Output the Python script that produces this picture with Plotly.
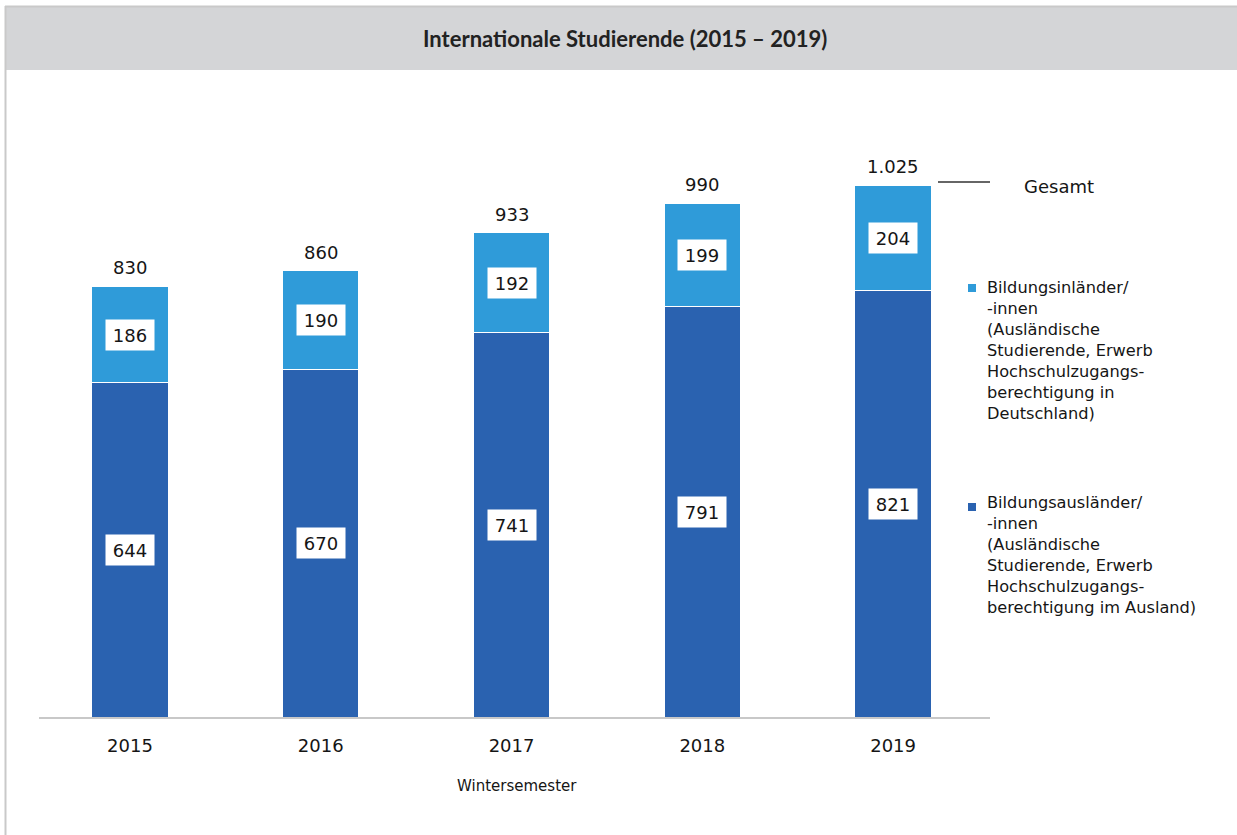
import plotly.graph_objects as go

# Wintersemester data (international students)
years = ["2015", "2016", "2017", "2018", "2019"]
bildungsauslaender = [644, 670, 741, 791, 821]
bildungsinlaender = [186, 190, 192, 199, 204]
gesamt = [830, 860, 933, 990, 1025]
gesamt_labels = ["830", "860", "933", "990", "1.025"]

title_text = "Internationale Studierende (2015 – 2019)"
x_title = "Wintersemester"
legend_inl = ("Bildungsinländer/<br>-innen<br>(Ausländische<br>Studierende, Erwerb<br>"
              "Hochschulzugangs-<br>berechtigung in<br>Deutschland)")
legend_ausl = ("Bildungsausländer/<br>-innen<br>(Ausländische<br>Studierende, Erwerb<br>"
               "Hochschulzugangs-<br>berechtigung im Ausland)")

C_DARK = "#2a62b0"
C_LIGHT = "#2f9bd9"
HEADER = "#d4d5d7"
FRAME = "#c9c9c9"
FONT = "DejaVu Sans"
TXT = "#151515"

W, H = 1237, 835
ML, MR, MT, MB = 39, 247, 100, 118
PW, PH = W - ML - MR, H - MT - MB


def px(x):
    """pixel x -> paper x"""
    return (x - ML) / PW


def py(y):
    """pixel y (from top) -> paper y"""
    return (H - MB - y) / PH


fig = go.Figure()
fig.add_bar(x=years, y=bildungsauslaender, marker=dict(color=C_DARK, line=dict(color="white", width=1)),
            width=0.4, showlegend=False)
fig.add_bar(x=years, y=bildungsinlaender, marker=dict(color=C_LIGHT, line=dict(color="white", width=1)),
            width=0.4, showlegend=False)

annotations = []
for k, (a, i, lab) in enumerate(zip(bildungsauslaender, bildungsinlaender, gesamt_labels)):
    # value boxes in the middle of each segment (x given as category index)
    for val, mid in ((a, a / 2), (i, a + i / 2)):
        annotations.append(dict(x=k, y=mid, xref="x", yref="y", text=str(val), showarrow=False,
                                bgcolor="white", width=46, height=28,
                                font=dict(family=FONT, size=18, color=TXT)))
    # totals above the stacks
    annotations.append(dict(x=k, y=a + i, xref="x", yref="y", text=lab, showarrow=False,
                            yanchor="bottom", yshift=6,
                            font=dict(family=FONT, size=18, color=TXT)))

# header title
annotations.append(dict(x=px(625), y=py(39), xref="paper", yref="paper", text="<b>" + title_text + "</b>",
                        showarrow=False, xanchor="center", yanchor="middle",
                        font=dict(family="Lato", size=22, color="#222222")))
# x-axis caption
annotations.append(dict(x=px(517), y=py(786), xref="paper", yref="paper", text=x_title, showarrow=False,
                        xanchor="center", yanchor="middle", font=dict(family=FONT, size=15, color=TXT)))
# total marker caption
annotations.append(dict(x=px(1022), y=py(186), xref="paper", yref="paper", text="Gesamt", showarrow=False,
                        xanchor="left", yanchor="middle", font=dict(family=FONT, size=18, color=TXT)))
# legend texts
annotations.append(dict(x=px(985), y=py(350), xref="paper", yref="paper", text=legend_inl, showarrow=False,
                        xanchor="left", yanchor="middle", align="left",
                        font=dict(family=FONT, size=16.2, color=TXT)))
annotations.append(dict(x=px(985), y=py(555), xref="paper", yref="paper", text=legend_ausl, showarrow=False,
                        xanchor="left", yanchor="middle", align="left",
                        font=dict(family=FONT, size=16.2, color=TXT)))

shapes = [
    # header band
    dict(type="rect", xref="paper", yref="paper", x0=px(6), x1=px(W + 2), y0=py(70), y1=py(7),
         fillcolor=HEADER, line=dict(width=0), layer="below"),
    # outer frame (top and left)
    dict(type="line", xref="paper", yref="paper", x0=px(5), x1=px(W + 2), y0=py(6.5), y1=py(6.5),
         line=dict(color=FRAME, width=2)),
    dict(type="line", xref="paper", yref="paper", x0=px(5.5), x1=px(5.5), y0=py(6), y1=py(H + 2),
         line=dict(color=FRAME, width=2)),
    # total marker line
    dict(type="line", xref="paper", yref="paper", x0=px(938), x1=px(990), y0=py(182), y1=py(182),
         line=dict(color="#333333", width=1.5)),
    # legend swatches
    dict(type="rect", xref="paper", yref="paper", x0=px(968), x1=px(976), y0=py(292), y1=py(284),
         fillcolor=C_LIGHT, line=dict(width=0)),
    dict(type="rect", xref="paper", yref="paper", x0=px(968), x1=px(976), y0=py(511), y1=py(503),
         fillcolor=C_DARK, line=dict(width=0)),
]

fig.update_layout(
    width=W, height=H, barmode="stack", bargap=0.6,
    margin=dict(l=ML, r=MR, t=MT, b=MB, pad=0),
    paper_bgcolor="white", plot_bgcolor="white",
    annotations=annotations, shapes=shapes,
    xaxis=dict(type="category", range=[-0.477, 4.508], showline=True, linecolor="#c8c8c8", linewidth=2,
               ticks="", showgrid=False, zeroline=False, ticklabelstandoff=11,
               tickfont=dict(family=FONT, size=18, color=TXT)),
    yaxis=dict(range=[0, PH / 0.519], visible=False, showgrid=False, zeroline=False),
)

fig.write_html("out.html")
